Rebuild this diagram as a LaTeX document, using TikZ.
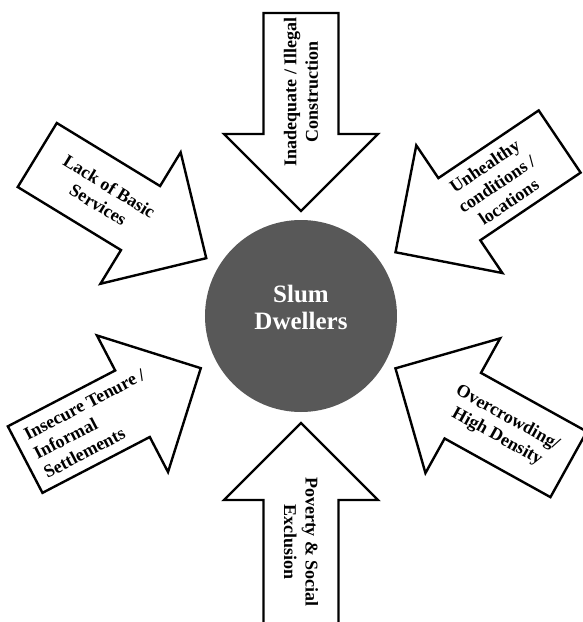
\documentclass[tikz,border=0pt]{standalone}
\usepackage{fontspec}
\setmainfont{Liberation Serif}
\usepackage{xcolor}
\usepackage{tikz}

\definecolor{hubgray}{RGB}{88,88,88}

\tikzset{
    pics/bigarrow/.style={code={
        \draw[arrowline] (0,0) -- (77,77) -- (77,37.5) -- (#1,37.5)
            -- (#1,-37.5) -- (77,-37.5) -- (77,-77) -- cycle;
    }},
    pics/bigarrow/.default=198,
}

\begin{document}
\begin{tikzpicture}[
    x=1pt, y=1pt,
    hub/.style={circle, fill=hubgray, minimum size=192pt, inner sep=0pt},
    hubtext/.style={align=center, text=white, inner sep=0pt, font=\fontsize{25}{27}\selectfont\bfseries},
    arrowline/.style={draw=black, fill=white, line width=2.4pt, line join=miter},
    arrowtext/.style={align=center, inner sep=0pt, font=\fontsize{18}{21.5}\selectfont\bfseries},
]
\useasboundingbox (-301,-306) rectangle (281,316);

% 中心
\node[hub] (slum) at (0,0) {};
\node[hubtext] (slumtext) at ([yshift=9]slum.center) {Slum\\Dwellers};

% 箭头 (尖端指向中心)
\pic[rotate=90] at ([shift={(90:105)}]slum.center) {bigarrow};
\pic[rotate=34] at ([shift={(34:114)}]slum.center) {bigarrow};
\pic[rotate=-29] at ([shift={(-29:108)}]slum.center) {bigarrow};
\pic[rotate=-90] at ([shift={(-90:107)}]slum.center) {bigarrow=215};
\pic[rotate=207.5] at ([shift={(207.5:113)}]slum.center) {bigarrow};
\pic[rotate=148.6] at ([shift={(148.6:111)}]slum.center) {bigarrow};

% 文字
\node[arrowtext, rotate=90] (construction) at ([shift={(90:224)}]slum.center) {Inadequate / Illegal\\Construction};
\node[arrowtext, rotate=34] (unhealthy) at ([shift={(34:236)}]slum.center) {Unhealthy\\conditions /\\locations};
\node[arrowtext, rotate=-29] (overcrowding) at ([shift={(-29:230)}]slum.center) {Overcrowding/\\High Density};
\node[arrowtext, rotate=-90] (poverty) at ([shift={(-90:226)}]slum.center) {Poverty \& Social\\Exclusion};
\node[arrowtext, rotate=27.5, align=left] (tenure) at ([shift={(207.5:233)}]slum.center) {Insecure Tenure /\\Informal\\Settlements};
\node[arrowtext, rotate=-31.4] (services) at ([shift={(148.6:231)}]slum.center) {Lack of Basic\\Services};

\end{tikzpicture}
\end{document}
